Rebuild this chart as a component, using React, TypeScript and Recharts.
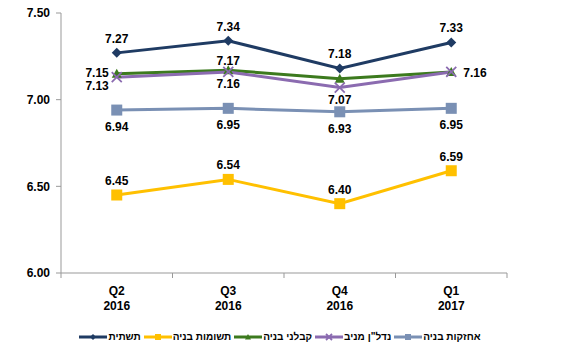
import React from "react";
import { LineChart, Line, XAxis, YAxis, Legend, LabelList } from "recharts";

const quarters = ["Q2|2016", "Q3|2016", "Q4|2016", "Q1|2017"];
const yTicks = [6.0, 6.5, 7.0, 7.5];

const infra = [7.27, 7.34, 7.18, 7.33];
const inputs = [6.45, 6.54, 6.4, 6.59];
const contractors = [7.15, 7.17, 7.12, 7.16];
const realEstate = [7.13, 7.16, 7.07, 7.16];
const holdings = [6.94, 6.95, 6.93, 6.95];

const names = ["תשתית", "תשומות בניה", "קבלני בניה", 'נדל"ן מניב', "אחזקות בניה"];
const keys = ["infra", "inputs", "contractors", "realEstate", "holdings"];
const colors = ["#1F3B63", "#FFC000", "#3C7A1E", "#8B6BB0", "#7A90B4"];
const shapes = ["diamond", "square", "triangle", "x", "square"];

// label placement per series per point
const labelPos: string[][] = [
  ["top", "top", "top", "top"],
  ["top", "top", "top", "top"],
  ["left", "topNear", "none", "none"],
  ["leftBelow", "bottomNear", "bottomNear", "right"],
  ["bottom", "bottom", "bottom", "bottom"],
];

const data = quarters.map((q, i) => ({
  q,
  infra: infra[i],
  inputs: inputs[i],
  contractors: contractors[i],
  realEstate: realEstate[i],
  holdings: holdings[i],
}));

const FONT = "'Liberation Sans', Arial, sans-serif";

function Marker({ cx, cy, shape, color, size = 5 }: any) {
  if (cx == null || cy == null) return null;
  if (shape === "diamond")
    return (
      <polygon
        points={`${cx},${cy - size} ${cx + size},${cy} ${cx},${cy + size} ${cx - size},${cy}`}
        fill={color}
      />
    );
  if (shape === "square")
    return <rect x={cx - size} y={cy - size} width={size * 2} height={size * 2} fill={color} />;
  if (shape === "triangle")
    return (
      <polygon
        points={`${cx},${cy - size} ${cx + size},${cy + size * 0.8} ${cx - size},${cy + size * 0.8}`}
        fill={color}
      />
    );
  if (shape === "x")
    return (
      <g stroke={color} strokeWidth={1.8}>
        <line x1={cx - size} y1={cy - size} x2={cx + size} y2={cy + size} />
        <line x1={cx - size} y1={cy + size} x2={cx + size} y2={cy - size} />
      </g>
    );
  return null;
}

const makeLabel = (si: number) => (props: any) => {
  const { x, y, value, index } = props;
  const pos = labelPos[si][index];
  if (pos === "none") return null;
  let tx = x;
  let ty = y;
  let anchor = "middle";
  if (pos === "top") ty = y - 14;
  else if (pos === "topNear") ty = y - 9;
  else if (pos === "bottom") ty = y + 17;
  else if (pos === "bottomNear") ty = y + 12;
  else if (pos === "left") {
    tx = x - 8;
    ty = y - 1;
    anchor = "end";
  } else if (pos === "leftBelow") {
    tx = x - 8;
    ty = y + 9;
    anchor = "end";
  } else if (pos === "right") {
    tx = x + 12;
    ty = y + 1;
    anchor = "start";
  }
  return (
    <text
      x={tx}
      y={ty}
      dy={4}
      textAnchor={anchor}
      fontFamily={FONT}
      fontSize={12}
      fontWeight="bold"
      fill="#000"
    >
      {Number(value).toFixed(2)}
    </text>
  );
};

const BAND = 111.5;
const AXIS_Y = 273;

function XTick(props: any) {
  const { x, payload, index } = props;
  const [a, b] = String(payload.value).split("|");
  return (
    <g>
      <line x1={x - BAND / 2} y1={AXIS_Y} x2={x - BAND / 2} y2={AXIS_Y + 5} stroke="#999" />
      {index === quarters.length - 1 && (
        <line x1={x + BAND / 2} y1={AXIS_Y} x2={x + BAND / 2} y2={AXIS_Y + 5} stroke="#999" />
      )}
      <text x={x} y={AXIS_Y + 22} textAnchor="middle" fontFamily={FONT} fontSize={12} fontWeight="bold" fill="#000">
        <tspan x={x} dy={0}>{a}</tspan>
        <tspan x={x} dy={15}>{b}</tspan>
      </text>
    </g>
  );
}

function LegendContent() {
  return (
    <div
      style={{
        display: "flex",
        justifyContent: "center",
        alignItems: "center",
        fontFamily: FONT,
        fontSize: 10,
        fontWeight: "bold",
        gap: 3,
        direction: "ltr",
        paddingLeft: 53,
        marginTop: 9,
      }}
    >
      {names.map((n, i) => (
        <div key={n} style={{ display: "flex", alignItems: "center" }}>
          <svg width={28} height={10}>
            <line x1={0} y1={5} x2={28} y2={5} stroke={colors[i]} strokeWidth={3} />
            <Marker cx={14} cy={5} shape={shapes[i]} color={colors[i]} size={3} />
          </svg>
          <span style={{ marginLeft: 1, direction: "rtl", unicodeBidi: "plaintext" }}>{n}</span>
        </div>
      ))}
    </div>
  );
}

export default function App() {
  return (
    <div style={{ position: "absolute", left: 0, top: 0, width: 570, height: 356, background: "#fff" }}>
      <LineChart
        width={570}
        height={356}
        data={data}
        margin={{ top: 13, right: 63, bottom: 8, left: 0 }}
      >
        <XAxis
          dataKey="q"
          padding={{ left: BAND / 2, right: BAND / 2 }}
          axisLine={{ stroke: "#999" }}
          tickLine={false}
          tick={<XTick />}
          interval={0}
          height={49}
        />
        <YAxis
          domain={[6, 7.5]}
          ticks={yTicks}
          width={61}
          axisLine={{ stroke: "#999" }}
          tickLine={{ stroke: "#999" }}
          tickSize={5}
          tickMargin={6}
          tickFormatter={(v: number) => v.toFixed(2)}
          tick={{ fontFamily: FONT, fontSize: 12, fontWeight: "bold", fill: "#000" }}
          interval={0}
        />
        <Legend verticalAlign="bottom" height={26} content={<LegendContent />} />
        {keys.map((k, i) => (
          <Line
            key={k}
            dataKey={k}
            name={names[i]}
            stroke={colors[i]}
            strokeWidth={3}
            isAnimationActive={false}
            dot={(p: any) => (
              <Marker key={`${k}-${p.index}`} cx={p.cx} cy={p.cy} shape={shapes[i]} color={colors[i]} size={shapes[i] === "square" ? 5.5 : 5} />
            )}
            activeDot={false}
          >
            <LabelList dataKey={k} content={makeLabel(i)} />
          </Line>
        ))}
      </LineChart>
    </div>
  );
}
